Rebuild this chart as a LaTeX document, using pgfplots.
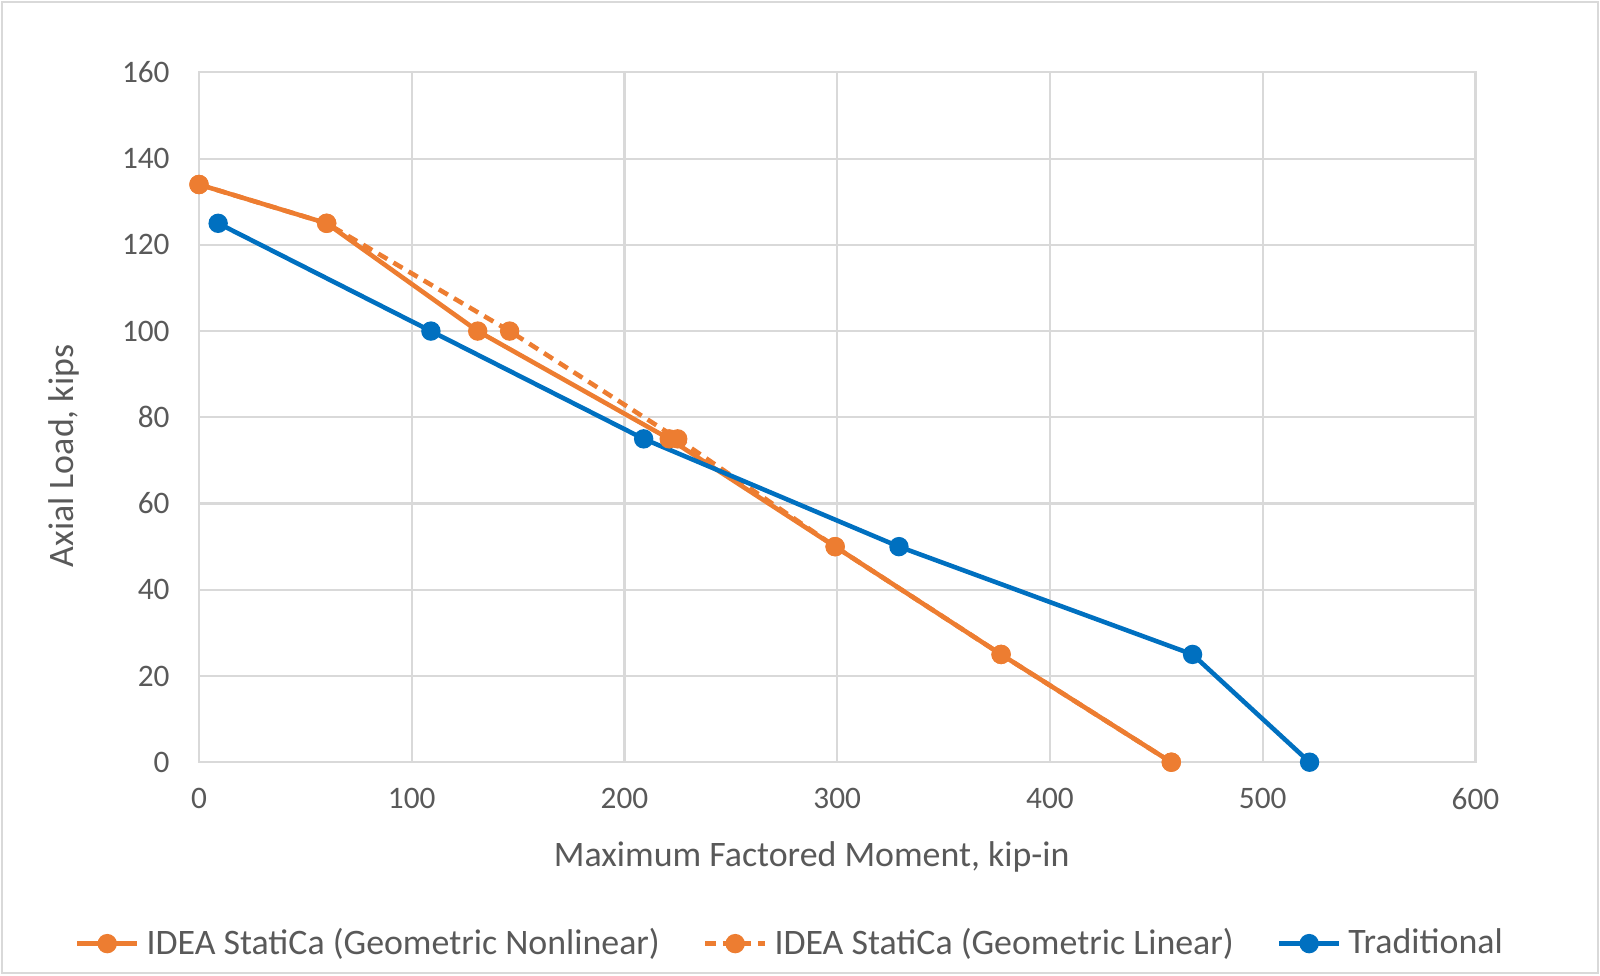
\documentclass[border=0pt]{standalone}
\usepackage{fontspec}
\setmainfont{Carlito}
\usepackage{pgfplots}
\pgfplotsset{compat=1.18}
\definecolor{corange}{HTML}{ED7D31}
\definecolor{cblue}{HTML}{0070C0}
\definecolor{cgrid}{HTML}{D9D9D9}
\definecolor{ctext}{HTML}{595959}
\begin{document}
\begin{tikzpicture}
\path[use as bounding box] (0,0) rectangle (16,9.75);
\draw[cgrid, line width=0.6pt] (0.02,0.02) rectangle (15.98,9.73);
\begin{axis}[
  at={(1.99cm,2.128cm)}, anchor=south west,
  scale only axis, width=12.765cm, height=6.898cm,
  xmin=0, xmax=600, ymin=0, ymax=160,
  xtick={0,100,...,600}, ytick={0,20,...,160},
  grid=major, major grid style={cgrid, line width=0.6pt},
  axis line style={cgrid, line width=0.6pt},
  tick style={draw=none},
  /pgf/number format/assume math mode=true,
  ticklabel style={font=\fontsize{8.9}{10}\selectfont, text=ctext},
  xticklabel style={yshift=-0.14cm},
  yticklabel style={xshift=-0.17cm},
  label style={font=\fontsize{10.2}{12}\selectfont, text=ctext},
  xlabel={Maximum Factored Moment, kip-in},
  ylabel={Axial Load, kips},
  xlabel style={at={(rel axis cs:0.48,-0.1376)}, anchor=center},
  ylabel style={at={(rel axis cs:-0.1055,0.444)}, anchor=center, rotate=0},
  legend columns=3,
  legend style={at={(rel axis cs:-0.106,-0.263)}, anchor=west, draw=none, fill=none,
    font=\fontsize{10.2}{12}\selectfont, text=ctext,
    /tikz/every even column/.append style={column sep=0.36cm}},
  legend cell align=left,
  every axis plot/.append style={line width=1.3pt, mark=*, mark size=2.1pt},
]
\addplot[corange, mark options={fill=corange, draw=corange}] coordinates {
(0,134) (60,125) (131,100) (221,75) (299,50) (377,25) (457,0)};
\addlegendentry{IDEA StatiCa (Geometric Nonlinear)}
\addplot[corange, dash pattern=on 3pt off 2pt, mark options={solid, fill=corange, draw=corange}] coordinates {
(0,134) (60,125) (146,100) (225,75) (299,50) (377,25) (457,0)};
\addlegendentry{IDEA StatiCa (Geometric Linear)}
\addplot[cblue, mark options={fill=cblue, draw=cblue}] coordinates {
(9,125) (109,100) (209,75) (329,50) (467,25) (522,0)};
\addlegendentry{Traditional}
\end{axis}
\end{tikzpicture}
\end{document}
